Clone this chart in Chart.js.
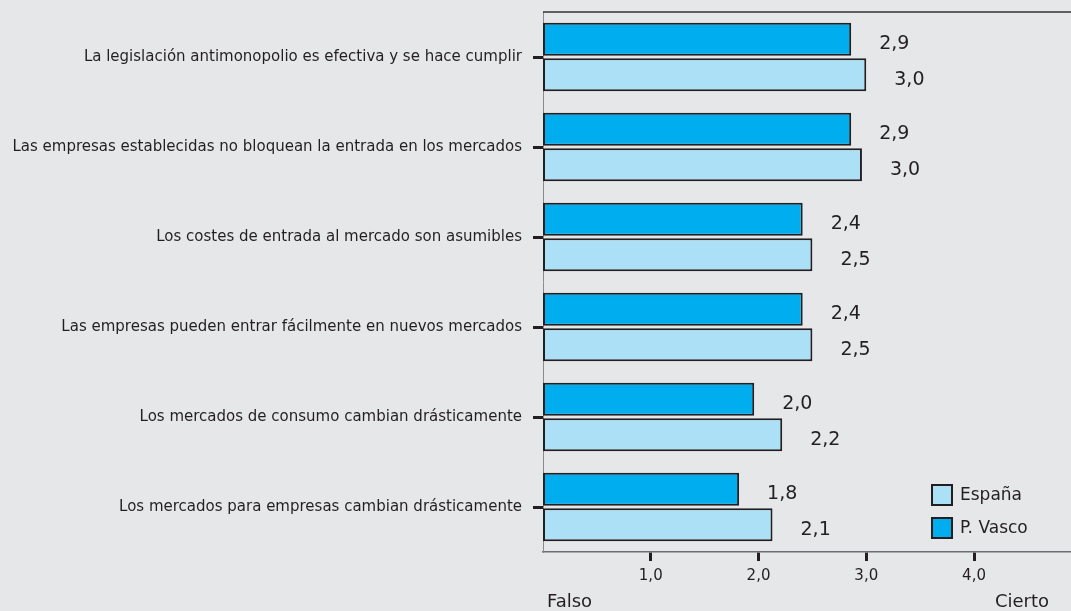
<!DOCTYPE html>
<html>
<head>
<meta charset="utf-8">
<script src="https://cdn.jsdelivr.net/npm/chart.js@4/dist/chart.umd.min.js"></script>
<style>
  html, body { margin: 0; padding: 0; background: #e6e7e9; overflow: hidden; }
  #wrap { width: 1071px; height: 611px; }
</style>
</head>
<body>
<div id="wrap"><canvas id="grafico"></canvas></div>
<script>
/* Datos */
var categorias = [
  'La legislación antimonopolio es efectiva y se hace cumplir',
  'Las empresas establecidas no bloquean la entrada en los mercados',
  'Los costes de entrada al mercado son asumibles',
  'Las empresas pueden entrar fácilmente en nuevos mercados',
  'Los mercados de consumo cambian drásticamente',
  'Los mercados para empresas cambian drásticamente'
];
var pVasco = [2.86, 2.86, 2.41, 2.41, 1.96, 1.82];
var espana = [3.0, 2.96, 2.50, 2.50, 2.22, 2.13];
var ticksX = [1, 2, 3, 4];
var extremos = ['Falso', 'Cierto'];

var TXT = '#231f20';
var FUENTE = '"DejaVu Sans", Arial, sans-serif';

function coma(v) { return v.toFixed(1).replace('.', ','); }

var extras = {
  id: 'extras',
  beforeDraw: function (chart) {
    var c = chart.ctx;
    c.save();
    c.fillStyle = '#e6e7e9';
    c.fillRect(0, 0, chart.width, chart.height);
    c.restore();
  },
  afterDatasetsDraw: function (chart) {
    var c = chart.ctx, a = chart.chartArea;
    c.save();
    // linea superior
    c.strokeStyle = '#333';
    c.lineWidth = 1.5;
    c.beginPath();
    c.moveTo(a.left, a.top);
    c.lineTo(a.right, a.top);
    c.stroke();

    // etiquetas de valor
    c.fillStyle = TXT;
    c.font = '19px ' + FUENTE;
    c.textAlign = 'left';
    c.textBaseline = 'middle';
    chart.data.datasets.forEach(function (ds, i) {
      chart.getDatasetMeta(i).data.forEach(function (el, j) {
        c.fillText(coma(ds.data[j]), el.x + 28, el.y + 5);
      });
    });

    // leyenda
    var lx = a.left + 388, ly = a.bottom - 68;
    var items = [
      { t: chart.data.datasets[1].label, col: chart.data.datasets[1].backgroundColor },
      { t: chart.data.datasets[0].label, col: chart.data.datasets[0].backgroundColor }
    ];
    c.font = '17px ' + FUENTE;
    items.forEach(function (it, k) {
      var y = ly + k * 33;
      c.fillStyle = it.col;
      c.fillRect(lx, y, 22, 22);
      c.strokeStyle = TXT;
      c.lineWidth = 2;
      c.strokeRect(lx + 1, y + 1, 20, 20);
      c.fillStyle = TXT;
      c.fillText(it.t, lx + 29, y + 12);
    });

    // Falso / Cierto
    c.font = '18px ' + FUENTE;
    c.textAlign = 'left';
    c.fillText(extremos[0], a.left + 4, 602);
    c.textAlign = 'right';
    c.fillText(extremos[1], 1049, 602);
    c.restore();
  }
};

new Chart(document.getElementById('grafico').getContext('2d'), {
  type: 'bar',
  data: {
    labels: categorias,
    datasets: [
      {
        label: 'P. Vasco',
        data: pVasco,
        backgroundColor: '#00aeef',
        borderColor: TXT,
        borderWidth: 2,
        borderSkipped: false,
        categoryPercentage: 0.79,
        barPercentage: 0.93
      },
      {
        label: 'España',
        data: espana,
        backgroundColor: '#abe0f7',
        borderColor: TXT,
        borderWidth: 2,
        borderSkipped: false,
        categoryPercentage: 0.79,
        barPercentage: 0.93
      }
    ]
  },
  options: {
    indexAxis: 'y',
    responsive: true,
    maintainAspectRatio: false,
    animation: false,
    layout: { padding: { top: 12, right: 0, left: 0, bottom: 0 } },
    plugins: {
      legend: { display: false },
      tooltip: { enabled: false }
    },
    scales: {
      x: {
        min: 0,
        max: 4.9,
        afterBuildTicks: function (s) {
          s.ticks = ticksX.map(function (v) { return { value: v }; });
        },
        afterFit: function (s) { s.height = 59; s.paddingLeft = 0; s.paddingRight = 0; },
        border: { display: true, color: '#6d6e71', width: 1.5 },
        grid: {
          drawOnChartArea: false,
          tickLength: 9,
          tickWidth: 3,
          tickColor: TXT
        },
        ticks: {
          color: TXT,
          font: { family: FUENTE, size: 15 },
          padding: 6,
          maxRotation: 0,
          callback: function (v) { return coma(v); }
        }
      },
      y: {
        afterFit: function (s) { s.width = 543; s.paddingTop = 0; s.paddingBottom = 0; },
        border: { display: true, color: '#8a8b8d', width: 1 },
        grid: {
          offset: false,
          drawOnChartArea: false,
          tickLength: 10,
          tickWidth: 3,
          tickColor: TXT
        },
        ticks: {
          color: TXT,
          font: { family: FUENTE, size: 15 },
          padding: 11
        }
      }
    }
  },
  plugins: [extras]
});
</script>
</body>
</html>
